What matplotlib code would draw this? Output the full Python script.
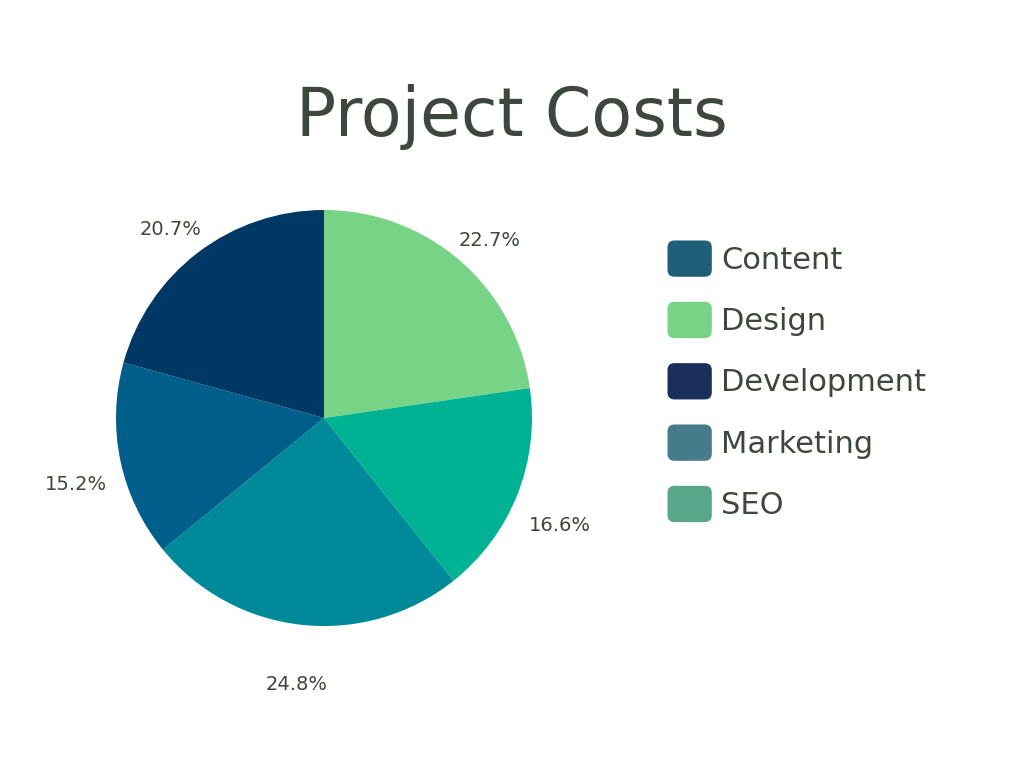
import numpy as np
import matplotlib
matplotlib.use("Agg")
import matplotlib.pyplot as plt
from matplotlib.patches import Patch, FancyBboxPatch
from matplotlib.legend_handler import HandlerPatch

# slice order, clockwise from 12 o'clock
slice_names = ["Design", "SEO", "Marketing", "Content", "Development"]
slice_values = [22.7, 16.6, 24.8, 15.2, 20.7]
slice_colors = ["#77d487", "#00b294", "#008a99", "#005f8a", "#003865"]

# legend as shown (alphabetical)
legend_names = ["Content", "Design", "Development", "Marketing", "SEO"]
legend_colors = ["#1f5f7a", "#77d487", "#1b2f5c", "#457b8a", "#5aa68a"]

text_col = "#3e473d"
plt.rcParams['font.family'] = ['DejaVu Sans']

fig = plt.figure(figsize=(10.24, 7.68), dpi=100)
fig.patch.set_facecolor("white")

fig.text(0.5, 0.848, "Project Costs", ha="center", va="center",
         fontsize=48, color=text_col)

ax = fig.add_axes([0.3164 - 0.203125, 0.4557 - 0.27083, 0.40625, 0.54167])
wedges, texts, autotexts = ax.pie(
    slice_values, colors=slice_colors, startangle=90, counterclock=False,
    autopct="%.1f%%", pctdistance=1.22,
    wedgeprops=dict(linewidth=0),
    textprops=dict(fontsize=14, color=text_col))
# labels sit a little lower than the default spot
for t in autotexts:
    x, y = t.get_position()
    t.set_position((x, y - 0.067))
ax.set_xlim(-1, 1)
ax.set_ylim(-1, 1)
ax.set_aspect("equal")


class RoundHandler(HandlerPatch):
    def create_artists(self, legend, orig_handle, xdescent, ydescent,
                       width, height, fontsize, trans):
        p = FancyBboxPatch((-xdescent, -ydescent), width, height,
                           boxstyle="round,pad=0,rounding_size=5",
                           facecolor=orig_handle.get_facecolor(),
                           edgecolor="none", transform=trans)
        return [p]


handles = [Patch(facecolor=c, label=n) for n, c in zip(legend_names, legend_colors)]
leg = fig.legend(handles=handles, loc="upper left", bbox_to_anchor=(0.625, 0.7227),
                 frameon=False, fontsize=22, handlelength=1.45, handleheight=1.45,
                 handletextpad=0.3, labelspacing=0.82,
                 handler_map={Patch: RoundHandler()})
for t in leg.get_texts():
    t.set_color(text_col)

fig.savefig("out.png", dpi=100)
